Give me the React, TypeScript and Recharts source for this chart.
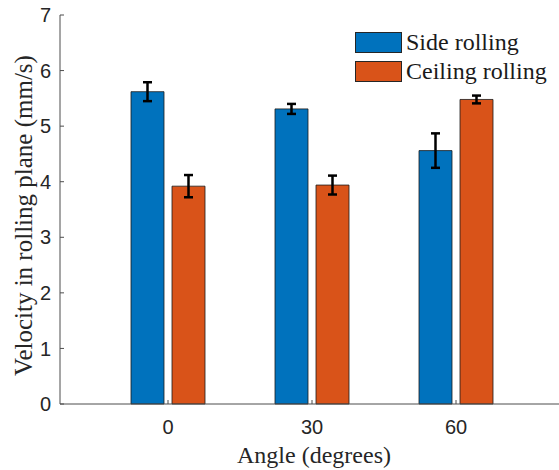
import React from 'react'
import { BarChart, Bar, XAxis, YAxis, ErrorBar, Label } from 'recharts'

const angles = ['0', '30', '60']
const sideRolling = [5.62, 5.31, 4.56]
const sideRollingErr = [0.17, 0.09, 0.31]
const ceilingRolling = [3.92, 3.94, 5.48]
const ceilingRollingErr = [0.2, 0.17, 0.07]
const yTicks = [0, 1, 2, 3, 4, 5, 6, 7]

const BLUE = '#0072BD'
const ORANGE = '#D95319'
const AXIS = '#4d4d4d'
const SERIF = 'Liberation Serif'
const SANS = 'Liberation Sans'

const data = angles.map((a, i) => ({
  angle: a,
  side: sideRolling[i],
  sideErr: sideRollingErr[i],
  ceiling: ceilingRolling[i],
  ceilingErr: ceilingRollingErr[i],
}))

const xPad = { left: 36, right: 31 }

const legendItems = [
  { name: 'Side rolling', color: BLUE },
  { name: 'Ceiling rolling', color: ORANGE },
]

// legend sits over the plot like matlab's, kept out of recharts layout
function LegendBox() {
  return (
    <div
      style={{
        position: 'absolute',
        left: 355,
        top: 28,
        fontFamily: SERIF,
        fontSize: 24,
        color: '#1a1a1a',
      }}
    >
      {legendItems.map((item) => (
        <div key={item.name} style={{ display: 'flex', alignItems: 'center', height: 29 }}>
          <div
            style={{
              width: 45,
              height: 19,
              background: item.color,
              border: '1px solid #262626',
              marginRight: 4,
            }}
          />
          <span style={{ lineHeight: '29px' }}>{item.name}</span>
        </div>
      ))}
    </div>
  )
}

export default function App() {
  return (
    <div style={{ position: 'absolute', left: 0, top: 0, width: 559, height: 470, background: '#fff' }}>
      <BarChart
        width={559}
        height={470}
        data={data}
        margin={{ top: 15, right: 0, left: 0, bottom: 0 }}
        barSize={33}
        barGap={8}
      >
        <XAxis
          dataKey="angle"
          height={66}
          padding={xPad}
          stroke={AXIS}
          tickSize={-4}
          tickMargin={20}
          tick={{ fontFamily: SANS, fontSize: 20, fill: '#262626' }}
        >
          <Label
            content={(props: any) => {
              const vb = props.viewBox
              const cx = vb.x + xPad.left + (vb.width - xPad.left - xPad.right) / 2
              return (
                <text
                  x={cx + 2}
                  y={463}
                  textAnchor="middle"
                  fontFamily={SERIF}
                  fontSize={24}
                  fill="#262626"
                >
                  Angle (degrees)
                </text>
              )
            }}
          />
        </XAxis>
        <YAxis
          width={60}
          domain={[0, 7]}
          ticks={yTicks}
          stroke={AXIS}
          tickSize={-4}
          tickMargin={13}
          tick={{ fontFamily: SANS, fontSize: 20, fill: '#262626' }}
        >
          <Label
            content={(props: any) => {
              const vb = props.viewBox
              const cx = vb.x + 23
              const cy = vb.y + vb.height / 2 + 6
              return (
                <text
                  x={cx}
                  y={cy}
                  transform={`rotate(-90 ${cx} ${cy})`}
                  textAnchor="middle"
                  dominantBaseline="central"
                  fontFamily={SERIF}
                  fontSize={25}
                  fill="#262626"
                >
                  Velocity in rolling plane (mm/s)
                </text>
              )
            }}
          />
        </YAxis>
        <Bar dataKey="side" name="Side rolling" fill={BLUE} stroke="#1a1a1a" strokeWidth={0.8} isAnimationActive={false}>
          <ErrorBar dataKey="sideErr" width={4.5} stroke="#000" strokeWidth={2.5} isAnimationActive={false} />
        </Bar>
        <Bar dataKey="ceiling" name="Ceiling rolling" fill={ORANGE} stroke="#1a1a1a" strokeWidth={0.8} isAnimationActive={false}>
          <ErrorBar dataKey="ceilingErr" width={4.5} stroke="#000" strokeWidth={2.5} isAnimationActive={false} />
        </Bar>
      </BarChart>
      <LegendBox />
    </div>
  )
}
